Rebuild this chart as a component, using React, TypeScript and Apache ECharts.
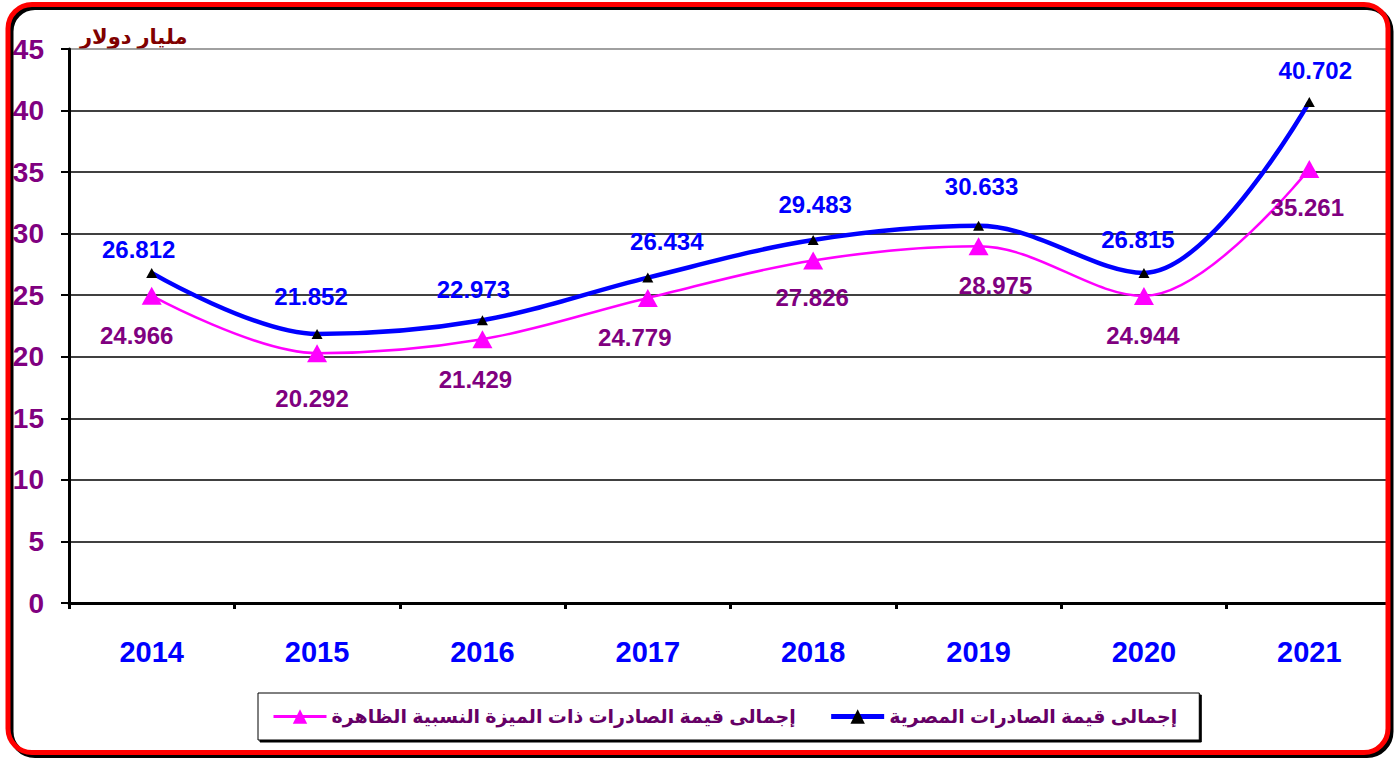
import React, { useEffect, useRef } from "react";
import * as echarts from "echarts";

const years = ["2014", "2015", "2016", "2017", "2018", "2019", "2020", "2021"];
const totalExports = [26.812, 21.852, 22.973, 26.434, 29.483, 30.633, 26.815, 40.702];
const rcaExports = [24.966, 20.292, 21.429, 24.779, 27.826, 28.975, 24.944, 35.261];
const yTicks = [0, 5, 10, 15, 20, 25, 30, 35, 40, 45];

const totalName = "إجمالى قيمة الصادرات المصرية";
const rcaName = "إجمالى قيمة الصادرات ذات الميزة النسبية الظاهرة";
const unitTitle = "مليار دولار";

// layout-only label nudges (px)
const totalLabelOffset = [[-13, 11], [-6, -3], [-9, 3], [19, -2], [2, -2], [3, -5], [-6, 1], [6, 3]];
const rcaLabelOffset = [[-15, 0], [-5, 5], [-7, 0], [-13, 0], [-1, -3], [17, -1], [-1, 0], [-2, -1]];

const FONT = "'Liberation Sans', Arial, 'DejaVu Sans', sans-serif";

export default function App() {
  const ref = useRef<HTMLDivElement>(null);
  useEffect(() => {
    document.body.style.margin = "0";
    const chart = echarts.init(ref.current!, null, { renderer: "svg" });
    const splitColors = yTicks.map((t, i) => (i === yTicks.length - 1 ? "#808080" : "#000000"));
    chart.setOption({
      animation: false,
      backgroundColor: "#ffffff",
      textStyle: { fontFamily: FONT },
      graphic: [
        {
          type: "rect",
          z: 100,
          shape: { x: 11, y: 7.5, width: 1380, height: 748, r: 24 },
          style: { fill: "none", stroke: "#000", lineWidth: 5 },
        },
        {
          type: "rect",
          z: 101,
          shape: { x: 8, y: 4.5, width: 1380, height: 748, r: 24 },
          style: { fill: "none", stroke: "#ff0000", lineWidth: 5 },
        },
        {
          type: "rect",
          z: 99,
          shape: { x: 1390, y: 0, width: 9, height: 758 },
          style: { fill: "#fff" },
        },
        {
          type: "text",
          left: 80,
          top: 26,
          style: {
            text: unitTitle,
            fill: "#800000",
            font: `bold 21px ${FONT}`,
          },
        },
      ],
      grid: { left: 69, right: 7, top: 49, bottom: 155 },
      legend: {
        data: [
          { name: rcaName, lineStyle: { width: 3 } },
          { name: totalName, lineStyle: { width: 5 } },
        ],
        left: 258,
        top: 693,
        itemWidth: 53,
        itemHeight: 18,
        itemGap: 33,
        padding: [14, 22, 14, 14],
        borderColor: "#000",
        borderWidth: 1,
        backgroundColor: "#fff",
        shadowColor: "#000",
        shadowBlur: 0,
        shadowOffsetX: 2,
        shadowOffsetY: 2,
        textStyle: { color: "#660066", fontSize: 19, fontWeight: "bold", fontFamily: FONT },
      },
      xAxis: {
        type: "category",
        data: years,
        boundaryGap: true,
        axisLine: { lineStyle: { color: "#000", width: 3 } },
        axisTick: { show: true, length: 6, lineStyle: { color: "#000", width: 3 } },
        axisLabel: { color: "#0000ff", fontSize: 29, fontWeight: "bold", margin: 34, fontFamily: FONT },
      },
      yAxis: {
        type: "value",
        min: 0,
        max: 45,
        interval: 5,
        axisLine: { show: true, lineStyle: { color: "#000", width: 3 } },
        axisTick: { show: true, length: 8, lineStyle: { color: "#000", width: 2 } },
        axisLabel: { color: "#800080", fontSize: 28, fontWeight: "bold", margin: 25, fontFamily: FONT },
        splitLine: { show: true, lineStyle: { color: splitColors, width: 1.5 } },
      },
      series: [
        {
          name: rcaName,
          type: "line",
          smooth: 0.35,
          data: rcaExports.map((v, i) => ({
            value: v,
            label: { offset: rcaLabelOffset[i] },
          })),
          lineStyle: { color: "#ff00ff", width: 2.5 },
          itemStyle: { color: "#ff00ff" },
          symbol: "triangle",
          symbolSize: [20, 18],
          z: 3,
          label: {
            show: true,
            position: "bottom",
            distance: 19,
            color: "#800080",
            fontSize: 24,
            fontWeight: "bold",
            fontFamily: FONT,
            formatter: (p: any) => p.value.toFixed(3),
          },
        },
        {
          name: totalName,
          type: "line",
          smooth: 0.35,
          data: totalExports.map((v, i) => ({
            value: v,
            label: { offset: totalLabelOffset[i] },
          })),
          lineStyle: { color: "#0000ff", width: 4.5 },
          itemStyle: { color: "#000000" },
          symbol: "triangle",
          symbolSize: [11, 10],
          z: 4,
          label: {
            show: true,
            position: "top",
            distance: 17,
            color: "#0000ff",
            fontSize: 24,
            fontWeight: "bold",
            fontFamily: FONT,
            formatter: (p: any) => p.value.toFixed(3),
          },
        },
      ],
    });
    return () => chart.dispose();
  }, []);
  return <div ref={ref} style={{ width: 1399, height: 758 }} />;
}
